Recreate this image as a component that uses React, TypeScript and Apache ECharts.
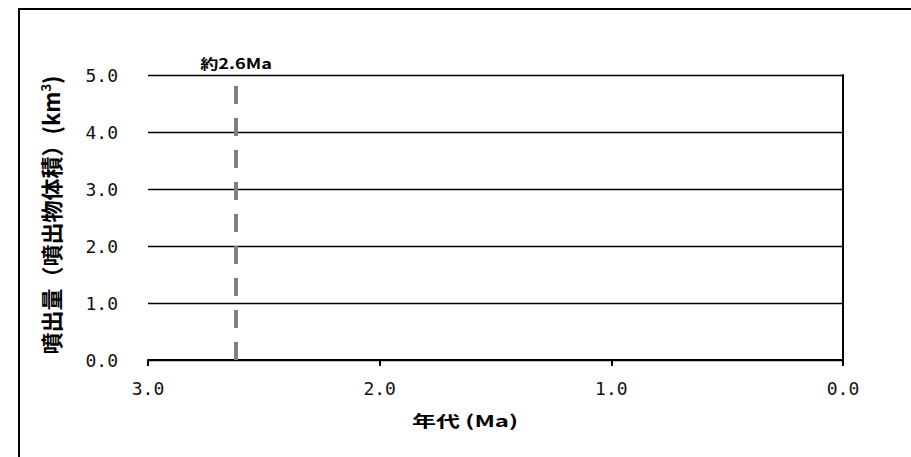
import React, { useEffect, useRef } from "react";
import * as echarts from "echarts";

const xTicks = [3.0, 2.0, 1.0, 0.0];
const yTicks = [0.0, 1.0, 2.0, 3.0, 4.0, 5.0];
const markerAge = [2.62, 2.62];
const markerVol = [0.0, 5.0];
const markerLabel = "約2.6Ma";
const xName = "年代 (Ma)";
const yNameMain = "噴出量（噴出物体積）(km";
const yNameSup = "3";

const FONT = "'Noto Sans CJK JP', 'Noto Sans', sans-serif";
const MONO = "'DejaVu Sans Mono', monospace";

export default function App() {
  const ref = useRef<HTMLDivElement>(null);
  useEffect(() => {
    if (!ref.current) return;
    const chart = echarts.init(ref.current, null, { renderer: "svg" });
    chart.setOption({
      animation: false,
      backgroundColor: "#ffffff",
      grid: { left: 148, right: 68, top: 75, bottom: 97, containLabel: false },
      xAxis: {
        type: "value",
        inverse: true,
        min: xTicks[xTicks.length - 1],
        max: xTicks[0],
        interval: 1,
        axisLine: { show: true, lineStyle: { color: "#000", width: 2 } },
        axisTick: { show: true, inside: false, length: 6, lineStyle: { color: "#000", width: 2 } },
        axisLabel: {
          color: "#111",
          fontFamily: MONO,
          fontSize: 18,
          margin: 19,
          formatter: (v: number) => v.toFixed(1),
        },
        splitLine: { show: false },
      },
      yAxis: {
        type: "value",
        min: yTicks[0],
        max: yTicks[yTicks.length - 1],
        interval: 1,
        axisLine: { show: true, lineStyle: { color: "#000", width: 2 } },
        axisTick: { show: true, inside: false, length: 3, lineStyle: { color: "#000", width: 1 } },
        axisLabel: {
          color: "#111",
          fontFamily: MONO,
          fontSize: 18,
          margin: 30,
          padding: [6, 0, 0, 0],
          formatter: (v: number) => v.toFixed(1),
        },
        splitLine: { show: true, lineStyle: { color: "#000", width: 1.3 } },
      },
      series: [
        {
          type: "line",
          data: markerAge.map((a, i) => [a, markerVol[i]]),
          symbol: "none",
          lineStyle: { color: "#808080", width: 4, type: [18, 14] },
          z: 5,
        },
      ],
    });
    const top = chart.convertToPixel({ gridIndex: 0 }, [markerAge[1], markerVol[1]]) as number[];
    chart.setOption({
      graphic: [
        { type: "line", shape: { x1: 18, y1: 9, x2: 911, y2: 9 }, style: { stroke: "#000", lineWidth: 2 } },
        { type: "line", shape: { x1: 19, y1: 8, x2: 19, y2: 457 }, style: { stroke: "#000", lineWidth: 2 } },
        {
          type: "text",
          x: top[0],
          y: top[1] - 12,
          scaleX: 1.3,
          style: {
            text: markerLabel,
            fill: "#000",
            font: `bold 14px ${FONT}`,
            align: "center",
            verticalAlign: "middle",
          },
        },
        {
          type: "text",
          x: 465,
          y: 420,
          scaleX: 1.5,
          style: {
            text: xName,
            fill: "#000",
            font: `bold 16px ${FONT}`,
            align: "center",
            verticalAlign: "middle",
          },
        },
        {
          type: "text",
          x: 50,
          y: 215,
          rotation: Math.PI / 2,
          style: {
            text: `{m|${yNameMain}}{s|${yNameSup}}{m|)}`,
            align: "center",
            verticalAlign: "middle",
            rich: {
              m: { fill: "#000", fontFamily: FONT, fontWeight: "bold", fontSize: 22 },
              s: { fill: "#000", fontFamily: FONT, fontWeight: "bold", fontSize: 13, verticalAlign: "top", padding: [0, 0, 10, 0] },
            },
          },
        },
      ],
    });
    return () => chart.dispose();
  }, []);
  return <div ref={ref} style={{ width: 911, height: 457, position: "absolute", left: 0, top: 0 }} />;
}
